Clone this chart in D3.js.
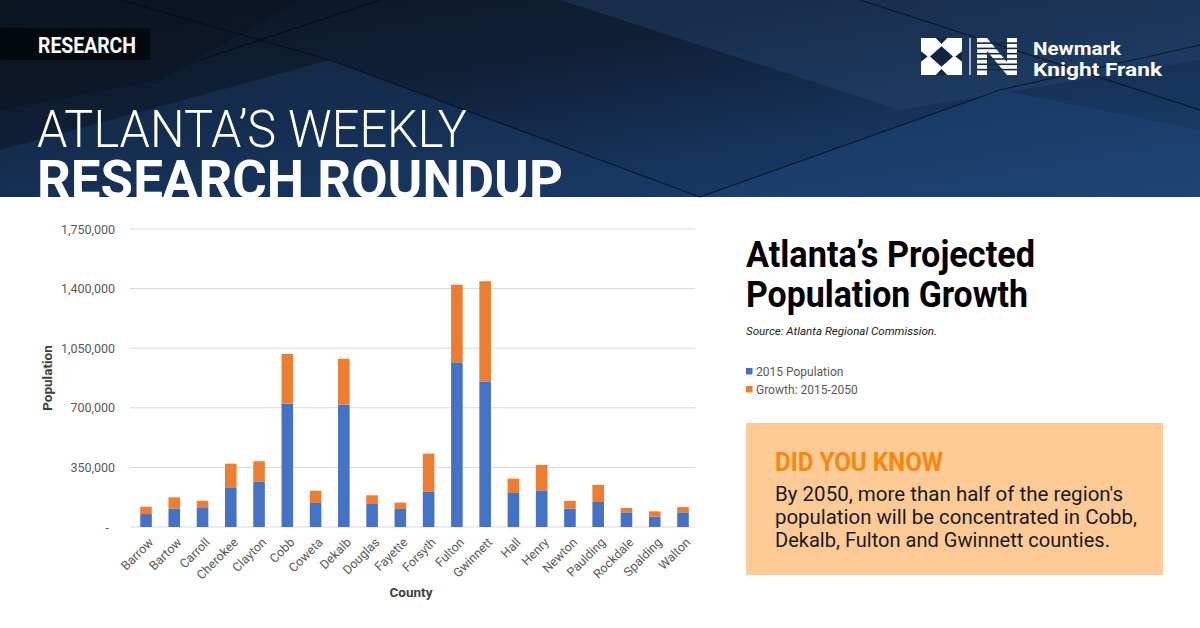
<!DOCTYPE html>
<html>
<head>
<meta charset="utf-8">
<script src="https://cdn.jsdelivr.net/npm/d3@7"></script>
<style>
  html, body { margin: 0; padding: 0; background: #fff; }
  svg { display: block; font-family: Roboto, "Noto Sans", sans-serif; }
</style>
</head>
<body>
<div id="chart"></div>
<script>
// data
var counties = ["Barrow", "Bartow", "Carroll", "Cherokee", "Clayton", "Cobb", "Coweta", "Dekalb",
  "Douglas", "Fayette", "Forsyth", "Fulton", "Gwinnett", "Hall", "Henry", "Newton", "Paulding",
  "Rockdale", "Spalding", "Walton"];
var pop2015 = [76000, 107000, 116000, 233000, 266000, 724000, 141000, 718000,
  135000, 106000, 206000, 967000, 855000, 200000, 215000, 108000, 147000,
  86000, 61000, 86000];
var growth = [43000, 67000, 38000, 139000, 120000, 292000, 72000, 270000,
  51000, 37000, 225000, 456000, 588000, 84000, 149000, 45000, 100000,
  26000, 31000, 31000];
var seriesNames = ["2015 Population", "Growth: 2015-2050"];
var yTicks = [0, 350000, 700000, 1050000, 1400000, 1750000];

var W = 1200, H = 628;
var blue = "#4472c4", orange = "#ed7d31";

var svg = d3.select("#chart").append("svg")
  .attr("width", W).attr("height", H);

// ---------- header ----------
var defs = svg.append("defs");
var bg = defs.append("linearGradient").attr("id", "hdr")
  .attr("x1", "0%").attr("y1", "0%").attr("x2", "100%").attr("y2", "100%");
bg.append("stop").attr("offset", "0%").attr("stop-color", "#0c1624");
bg.append("stop").attr("offset", "35%").attr("stop-color", "#0f1e34");
bg.append("stop").attr("offset", "70%").attr("stop-color", "#16345c");
bg.append("stop").attr("offset", "100%").attr("stop-color", "#1c4170");

svg.append("rect").attr("width", W).attr("height", 197).attr("fill", "url(#hdr)");

// some panel shapes in the background
var panels = [
  {pts: [[0, 150], [330, 60], [700, 197], [0, 197]], c: "#1a3c68", o: 0.45},
  {pts: [[560, 0], [1200, 0], [1200, 60], [900, 110]], c: "#2a4d78", o: 0.35},
  {pts: [[700, 197], [1000, 90], [1200, 130], [1200, 197]], c: "#20497c", o: 0.4},
  {pts: [[0, 0], [300, 0], [160, 80], [0, 110]], c: "#0a121d", o: 0.5}
];
svg.selectAll(".panel").data(panels).enter().append("polygon")
  .attr("points", function(d) { return d.pts.join(" "); })
  .attr("fill", function(d) { return d.c; })
  .attr("opacity", function(d) { return d.o; });

var streaks = [[[120, 0], [330, 60]], [[330, 60], [700, 197]], [[380, 0], [200, 60]],
  [[1000, 90], [1200, 45]], [[700, 197], [1000, 90]], [[860, 0], [1200, 110]]];
svg.selectAll(".streak").data(streaks).enter().append("line")
  .attr("x1", function(d) { return d[0][0]; }).attr("y1", function(d) { return d[0][1]; })
  .attr("x2", function(d) { return d[1][0]; }).attr("y2", function(d) { return d[1][1]; })
  .attr("stroke", "#050a12").attr("stroke-width", 1.2).attr("opacity", 0.7);

svg.append("rect").attr("x", 0).attr("y", 28).attr("width", 150).attr("height", 32)
  .attr("fill", "#04070b").attr("opacity", 0.85);
svg.append("text").attr("x", 38).attr("y", 53)
  .attr("fill", "#fff").attr("font-weight", 700).attr("font-size", 22)
  .attr("textLength", 98).attr("lengthAdjust", "spacingAndGlyphs")
  .text("RESEARCH");

svg.append("text").attr("x", 37).attr("y", 147)
  .attr("fill", "#fff").attr("font-weight", 300).attr("font-size", 52)
  .attr("textLength", 430).attr("lengthAdjust", "spacingAndGlyphs")
  .text("ATLANTA\u2019S WEEKLY");
svg.append("text").attr("x", 37).attr("y", 198)
  .attr("fill", "#fff").attr("font-weight", 700).attr("font-size", 53)
  .attr("textLength", 526).attr("lengthAdjust", "spacingAndGlyphs")
  .text("RESEARCH ROUNDUP");

// logo
var logo = svg.append("g").attr("transform", "translate(921,38)");
var lw = 41, lh = 37;
logo.append("rect").attr("width", lw).attr("height", lh).attr("fill", "#fff");
var cuts = [
  [[0.5, 0.22], [0.78, 0.5], [0.5, 0.78], [0.22, 0.5]],
  [[0.36, 0], [0.64, 0], [0.5, 0.16]],
  [[0.36, 1], [0.64, 1], [0.5, 0.84]],
  [[0, 0.36], [0, 0.64], [0.16, 0.5]],
  [[1, 0.36], [1, 0.64], [0.84, 0.5]]
];
logo.selectAll(".cut").data(cuts).enter().append("polygon")
  .attr("points", function(d) { return d.map(function(p) { return [p[0] * lw, p[1] * lh]; }).join(" "); })
  .attr("fill", "#0f2440");
logo.append("line").attr("x1", 49).attr("x2", 49).attr("y1", 0).attr("y2", lh)
  .attr("stroke", "#fff").attr("stroke-width", 1.2);
var nG = logo.append("g").attr("transform", "translate(56,0)");
nG.append("path").attr("d", "M0,0 H10 L30,24 V0 H40 V37 H30 L10,13 V37 H0 Z").attr("fill", "#fff");
nG.selectAll(".stripe").data(d3.range(1, 7)).enter().append("rect")
  .attr("x", 0).attr("width", 40).attr("y", function(d) { return d * 5.3 - 1; }).attr("height", 1.6)
  .attr("fill", "#13294a");
logo.append("text").attr("x", 112).attr("y", 17).attr("fill", "#fff")
  .attr("font-weight", 700).attr("font-size", 18.5)
  .attr("textLength", 88).attr("lengthAdjust", "spacingAndGlyphs").text("Newmark");
logo.append("text").attr("x", 112).attr("y", 38).attr("fill", "#fff")
  .attr("font-weight", 700).attr("font-size", 18.5)
  .attr("textLength", 129).attr("lengthAdjust", "spacingAndGlyphs").text("Knight Frank");

// ---------- chart ----------
var x = d3.scaleBand().domain(counties).range([134, 695]).paddingInner(0.59).paddingOuter(0.22);
var y = d3.scaleLinear().domain([0, 1750000]).range([527, 229]);

var plot = svg.append("g");
plot.selectAll(".grid").data(yTicks).enter().append("line")
  .attr("x1", 130).attr("x2", 695)
  .attr("y1", function(d) { return y(d); }).attr("y2", function(d) { return y(d); })
  .attr("stroke", "#d9d9d9").attr("stroke-width", 1);

var yAxis = plot.append("g").attr("transform", "translate(115,0)")
  .call(d3.axisLeft(y).tickValues(yTicks).tickSize(0).tickPadding(0)
    .tickFormat(function(d) { return d === 0 ? "-" : d3.format(",")(d); }));
yAxis.select(".domain").remove();
yAxis.selectAll("text").attr("fill", "#595959").attr("font-size", 12.5)
  .attr("font-family", "Roboto, sans-serif");
yAxis.selectAll(".tick").filter(function(d) { return d === 0; }).select("text").attr("x", -6);

var stacked = d3.stack().keys([0, 1])
  .value(function(i, k) { return k === 0 ? pop2015[i] : growth[i]; })(d3.range(counties.length));
var colors = [blue, orange];
plot.selectAll(".series").data(stacked).enter().append("g")
  .attr("fill", function(d, k) { return colors[k]; })
  .selectAll("rect").data(function(d) { return d; }).enter().append("rect")
  .attr("x", function(d, i) { return x(counties[i]); })
  .attr("width", x.bandwidth())
  .attr("y", function(d) { return y(d[1]); })
  .attr("height", function(d) { return y(d[0]) - y(d[1]); });

var xAxis = plot.append("g").attr("transform", "translate(0,527)")
  .call(d3.axisBottom(x).tickSize(0));
xAxis.select(".domain").remove();
xAxis.selectAll("text")
  .attr("fill", "#595959").attr("font-size", 12.5).attr("font-family", "Roboto, sans-serif")
  .attr("text-anchor", "end").attr("x", 0).attr("y", 0).attr("dy", "0.35em")
  .attr("transform", "translate(5,13) rotate(-45)");

plot.append("text").attr("transform", "translate(52,378) rotate(-90)")
  .attr("text-anchor", "middle").attr("font-weight", 700).attr("font-size", 13.5)
  .attr("fill", "#404040").text("Population");
plot.append("text").attr("x", 411).attr("y", 597)
  .attr("text-anchor", "middle").attr("font-weight", 700).attr("font-size", 13.5)
  .attr("fill", "#404040").text("County");

// ---------- right panel ----------
var side = svg.append("g");
side.append("text").attr("x", 746).attr("y", 267).attr("font-weight", 700).attr("font-size", 37)
  .attr("fill", "#000").attr("textLength", 289).attr("lengthAdjust", "spacingAndGlyphs")
  .text("Atlanta\u2019s Projected");
side.append("text").attr("x", 746).attr("y", 307).attr("font-weight", 700).attr("font-size", 37)
  .attr("fill", "#000").attr("textLength", 282).attr("lengthAdjust", "spacingAndGlyphs")
  .text("Population Growth");
side.append("text").attr("x", 746).attr("y", 335).attr("font-style", "italic").attr("font-size", 11.5)
  .attr("fill", "#222").attr("textLength", 191).attr("lengthAdjust", "spacingAndGlyphs")
  .text("Source: Atlanta Regional Commission.");

var legend = side.selectAll(".leg").data(seriesNames).enter().append("g")
  .attr("transform", function(d, i) { return "translate(746," + (376 + i * 18) + ")"; });
legend.append("rect").attr("x", 0).attr("y", -8).attr("width", 6.5).attr("height", 6.5)
  .attr("fill", function(d, i) { return colors[i]; });
legend.append("text").attr("x", 10).attr("y", 0).attr("font-size", 12).attr("fill", "#595959")
  .text(function(d) { return d; });

side.append("rect").attr("x", 746).attr("y", 423).attr("width", 417).attr("height", 152)
  .attr("fill", "#fecb96");
side.append("text").attr("x", 775).attr("y", 471).attr("font-weight", 700).attr("font-size", 25)
  .attr("fill", "#f7870f").attr("textLength", 168).attr("lengthAdjust", "spacingAndGlyphs")
  .text("DID YOU KNOW");
var bodyLines = [
  {t: "By 2050, more than half of the region's", w: 348},
  {t: "population will be concentrated in Cobb,", w: 362},
  {t: "Dekalb, Fulton and Gwinnett counties.", w: 335}
];
side.selectAll(".body").data(bodyLines).enter().append("text")
  .attr("x", 775).attr("y", function(d, i) { return 501 + i * 23; })
  .attr("font-size", 20).attr("fill", "#1a1a1a")
  .attr("textLength", function(d) { return d.w; }).attr("lengthAdjust", "spacingAndGlyphs")
  .text(function(d) { return d.t; });
</script>
</body>
</html>
